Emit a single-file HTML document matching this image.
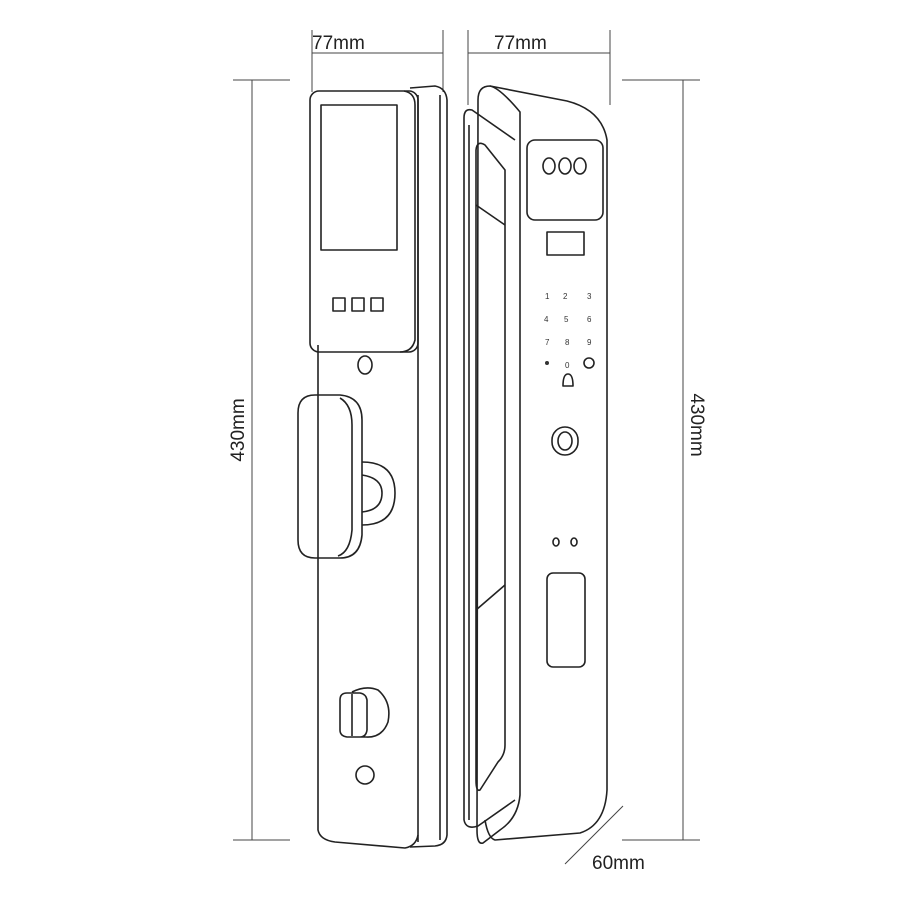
<!DOCTYPE html>
<html><head><style>body{margin:0;background:#fff}</style></head><body>
<svg width="900" height="900" viewBox="0 0 900 900" xmlns="http://www.w3.org/2000/svg" fill="none" stroke="#222" stroke-width="1.6" stroke-linejoin="round">
<g stroke="#444" stroke-width="1">
<line x1="312" y1="30" x2="312" y2="92"/><line x1="443" y1="30" x2="443" y2="92"/><line x1="312" y1="53" x2="443" y2="53"/>
<line x1="468" y1="30" x2="468" y2="105"/><line x1="610" y1="30" x2="610" y2="105"/><line x1="468" y1="53" x2="610" y2="53"/>
<line x1="252" y1="80" x2="252" y2="840"/><line x1="233" y1="80" x2="290" y2="80"/><line x1="233" y1="840" x2="290" y2="840"/>
<line x1="683" y1="80" x2="683" y2="840"/><line x1="622" y1="80" x2="700" y2="80"/><line x1="622" y1="840" x2="700" y2="840"/>
<line x1="565" y1="864" x2="623" y2="806"/>
</g>
<g fill="#222" stroke="none" font-family="Liberation Sans, sans-serif" font-size="19">
<text x="312" y="49">77mm</text><text x="494" y="49">77mm</text><text x="592" y="869">60mm</text>
<text transform="translate(244,430) rotate(-90)" text-anchor="middle">430mm</text>
<text transform="translate(691,425) rotate(90)" text-anchor="middle">430mm</text>
</g>
<!-- left lock -->
<path d="M410 88 L435 86 Q446 88 447 100 L447 835 Q446 845 435 846 L410 847"/>
<line x1="440" y1="95" x2="440" y2="840"/><line x1="418" y1="95" x2="418" y2="842"/>
<path d="M318 345 L318 830 Q320 840 335 842 L405 848 Q416 846 418 835"/>
<rect x="310" y="91" width="108" height="261" rx="9"/>
<path d="M404 91 Q415 93 415 105 L415 340 Q412 352 400 352"/>
<rect x="321" y="105" width="76" height="145"/>
<rect x="333" y="298" width="12" height="13"/><rect x="352" y="298" width="12" height="13"/><rect x="371" y="298" width="12" height="13"/>
<ellipse cx="365" cy="365" rx="7" ry="9"/>
<path d="M362 462 Q395 462 395 493 Q395 525 362 525"/><path d="M362 475 Q382 478 382 493 Q382 510 362 512"/>
<path d="M315 395 L340 395 Q362 397 362 420 L362 535 Q360 558 340 558 L315 558 Q298 558 298 540 L298 413 Q298 395 315 395Z"/>
<path d="M340 398 Q352 405 352 425 L352 530 Q350 552 338 556"/>
<path d="M352 692 Q366 685 378 690 Q392 702 388 722 Q382 738 366 737 L347 737 Q340 736 340 730 L340 700 Q340 693 347 693 L360 693 Q366 694 367 700 L367 730 Q366 737 360 737"/>
<line x1="352" y1="694" x2="352" y2="736"/>
<circle cx="365" cy="775" r="9"/>
<!-- right lock -->
<path d="M490 86 L567 101 Q602 110 607 140 L607 790 Q605 825 580 833 L495 840 Q488 838 485 820"/>
<path d="M478 100 Q478 86 490 86 Q500 88 520 112 Q520 118 520 145 L520 795 Q518 818 500 830 L483 843 Q477 845 477 830 Z"/>
<path d="M464 118 Q464 108 472 110 L515 140"/>
<line x1="464" y1="118" x2="464" y2="820"/><line x1="469" y1="125" x2="469" y2="820"/>
<path d="M464 820 Q466 830 478 826 L515 800"/>
<path d="M476 150 Q477 140 485 145 L505 170 L505 745 Q505 755 498 762 L480 790 Q476 792 476 780 Z"/>
<line x1="476" y1="205" x2="505" y2="225"/><line x1="476" y1="610" x2="505" y2="585"/>
<rect x="527" y="140" width="76" height="80" rx="8"/>
<ellipse cx="549" cy="166" rx="6" ry="8"/><ellipse cx="565" cy="166" rx="6" ry="8"/><ellipse cx="580" cy="166" rx="6" ry="8"/>
<rect x="547" y="232" width="37" height="23"/>
<g fill="#333" stroke="none" font-family="Liberation Sans, sans-serif" font-size="8">
<text x="545" y="299">1</text><text x="563" y="299">2</text><text x="587" y="299">3</text>
<text x="544" y="322">4</text><text x="564" y="322">5</text><text x="587" y="322">6</text>
<text x="545" y="345">7</text><text x="565" y="345">8</text><text x="587" y="345">9</text>
<circle cx="547" cy="363" r="2"/><text x="565" y="368">0</text>
</g>
<circle cx="589" cy="363" r="5"/>
<path d="M563 386 Q563 374 568 374 Q573 374 573 386 Z"/>
<rect x="552" y="427" width="26" height="28" rx="13"/><ellipse cx="565" cy="441" rx="7" ry="9"/>
<ellipse cx="556" cy="542" rx="3" ry="4"/><ellipse cx="574" cy="542" rx="3" ry="4"/>
<rect x="547" y="573" width="38" height="94" rx="6"/>
</svg>
</body></html>
